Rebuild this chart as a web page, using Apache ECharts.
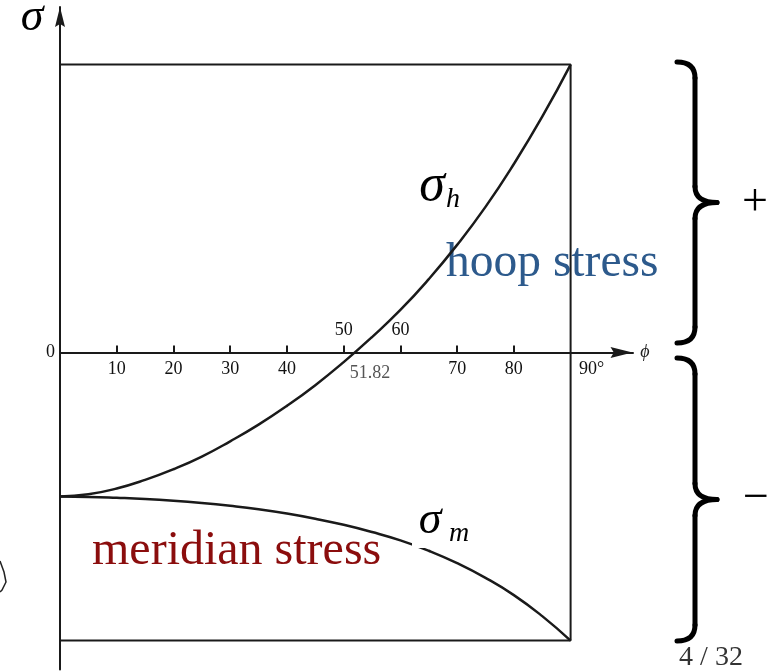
<!DOCTYPE html>
<html>
<head>
<meta charset="utf-8">
<script src="https://cdn.jsdelivr.net/npm/echarts@6/dist/echarts.min.js"></script>
<style>
  html, body { margin: 0; padding: 0; background: #fff; }
  #chart { width: 777px; height: 671px; }
</style>
</head>
<body>
<div id="chart"></div>
<script>
// Meridian angle phi (degrees) and the two membrane stresses, normalised to qR
const phi     = [0, 5, 10, 15, 20, 25, 30, 35, 40, 45, 50, 55, 60, 65, 70, 75, 80, 85, 90];
const sigmaH  = [-0.50, -0.492, -0.472, -0.442, -0.405, -0.361, -0.308, -0.25, -0.185, -0.113, -0.033, 0.054, 0.148, 0.255, 0.374, 0.506, 0.655, 0.819, 1.00];
const sigmaM  = [-0.50, -0.501, -0.504, -0.508, -0.514, -0.522, -0.532, -0.544, -0.559, -0.577, -0.598, -0.623, -0.652, -0.688, -0.731, -0.782, -0.842, -0.915, -1.00];

// Frame limits
const phiEnd = 90;
const sigmaTop = 1;
const sigmaBottom = -1;

// Axis tick values and labels
const tickValues = [10, 20, 30, 40, 50, 60, 70, 80];
const belowLabels = [10, 20, 30, 40, 70, 80];
const aboveLabels = [50, 60];
const zeroCrossing = 51.82;
const endLabel = '90°';

const serif = '"Liberation Serif", "DejaVu Serif", serif';
const ink = '#1a1a1a';

const chart = echarts.init(document.getElementById('chart'), null, { renderer: 'canvas' });

// Tick labels sit on the phi axis (sigma = 0)
const labelData = [];
belowLabels.forEach(v => labelData.push({
  value: [v, 0], name: String(v),
  label: { position: 'bottom', distance: 8 }
}));
aboveLabels.forEach(v => labelData.push({
  value: [v, 0], name: String(v),
  label: { position: 'top', distance: 13 }
}));
labelData.push({
  value: [zeroCrossing, 0], name: String(zeroCrossing),
  label: { position: 'bottom', distance: 12, offset: [16, 0], color: '#555' }
});
labelData.push({
  value: [phiEnd, 0], name: endLabel,
  label: { position: 'bottom', distance: 8, offset: [21, 0] }
});
labelData.push({
  value: [0, 0], name: '0',
  label: { position: 'left', distance: 5 }
});

// Curly brace built from lines and quadratic curves (opening to the left, tip to the right)
function brace(top, bottom, xEnd, xBar, xTip, r) {
  const mid = (top + bottom) / 2;
  const st = { fill: 'none', stroke: '#000', lineWidth: 5, lineCap: 'round' };
  return {
    type: 'group',
    children: [
      { type: 'bezierCurve', shape: { x1: xEnd, y1: top, cpx1: xBar, cpy1: top, x2: xBar, y2: top + r }, style: st },
      { type: 'line', shape: { x1: xBar, y1: top + r, x2: xBar, y2: mid - r }, style: st },
      { type: 'bezierCurve', shape: { x1: xBar, y1: mid - r, cpx1: xBar, cpy1: mid, x2: xTip, y2: mid }, style: st },
      { type: 'bezierCurve', shape: { x1: xTip, y1: mid, cpx1: xBar, cpy1: mid, x2: xBar, y2: mid + r }, style: st },
      { type: 'line', shape: { x1: xBar, y1: mid + r, x2: xBar, y2: bottom - r }, style: st },
      { type: 'bezierCurve', shape: { x1: xBar, y1: bottom - r, cpx1: xBar, cpy1: bottom, x2: xEnd, y2: bottom }, style: st }
    ]
  };
}

const arrowPath = 'path://M5,0 L10,20 L5,17 L0,20 Z';

const option = {
  animation: false,
  backgroundColor: '#ffffff',
  grid: { left: 60, top: 7, width: 573, height: 662.4, containLabel: false, outerBoundsMode: 'none' },
  xAxis: {
    type: 'value', min: 0, max: 101,
    axisLine: {
      show: true, onZero: true,
      symbol: ['none', arrowPath], symbolSize: [11, 23], symbolOffset: [0, -11.5],
      lineStyle: { color: ink, width: 2 }
    },
    axisTick: {
      show: true, inside: true, length: 7, customValues: tickValues,
      lineStyle: { color: ink, width: 2 }
    },
    axisLabel: { show: false },
    splitLine: { show: false }
  },
  yAxis: {
    type: 'value', min: -1.1, max: 1.2,
    axisLine: {
      show: true, onZero: false,
      symbol: ['none', arrowPath], symbolSize: [11, 20], symbolOffset: [0, -10],
      lineStyle: { color: ink, width: 2 }
    },
    axisTick: { show: false },
    axisLabel: { show: false },
    splitLine: { show: false }
  },
  series: [
    {
      name: 'frame', type: 'line', symbol: 'none', silent: true,
      data: [[0, sigmaTop], [phiEnd, sigmaTop], [phiEnd, sigmaBottom], [0, sigmaBottom]],
      lineStyle: { color: ink, width: 2 }
    },
    {
      name: 'sigma_h', type: 'line', symbol: 'none', smooth: 0.5,
      data: phi.map((p, i) => [p, sigmaH[i]]),
      lineStyle: { color: ink, width: 2.5 }
    },
    {
      name: 'sigma_m', type: 'line', symbol: 'none', smooth: 0.5,
      data: phi.map((p, i) => [p, sigmaM[i]]),
      lineStyle: { color: ink, width: 2.5 }
    },
    {
      name: 'axisText', type: 'scatter', symbolSize: 0, silent: true,
      itemStyle: { opacity: 1 },
      data: labelData,
      label: {
        show: true, formatter: p => p.name, opacity: 1,
        fontFamily: serif, fontSize: 18, color: '#111'
      },
      z: 5
    }
  ],
  graphic: [
    // axis names
    { type: 'text', x: 32, y: 18, style: { text: 'σ', font: `italic 46px ${serif}`, fill: '#000', align: 'center', verticalAlign: 'middle' } },
    { type: 'text', x: 645, y: 352, style: { text: 'ϕ', font: `italic 18px ${serif}`, fill: '#222', align: 'center', verticalAlign: 'middle' } },
    // curve names
    { type: 'text', x: 432, y: 186, style: { text: 'σ', font: `italic 52px ${serif}`, fill: '#000', align: 'center', verticalAlign: 'middle' } },
    { type: 'text', x: 453, y: 186, style: { text: 'h', font: `italic 28px ${serif}`, fill: '#000', align: 'center', verticalAlign: 'top' } },
    { type: 'rect', shape: { x: 412, y: 503, width: 64, height: 45 }, style: { fill: '#fff' }, z: 10 },
    { type: 'text', x: 430, y: 521, z: 11, style: { text: 'σ', font: `italic 46px ${serif}`, fill: '#000', align: 'center', verticalAlign: 'middle' } },
    { type: 'text', x: 459, y: 520, z: 11, style: { text: 'm', font: `italic 28px ${serif}`, fill: '#000', align: 'center', verticalAlign: 'top' } },
    { type: 'text', x: 446, y: 240, style: { text: 'hoop stress', font: `47.5px ${serif}`, fill: '#2d5a8c', align: 'left', verticalAlign: 'top' } },
    { type: 'text', x: 92, y: 527, style: { text: 'meridian stress', font: `48px ${serif}`, fill: '#8b0d0d', align: 'left', verticalAlign: 'top' } },
    // sign braces
    brace(62, 343, 677, 695, 717, 16),
    brace(358, 641, 677, 695, 717, 16),
    { type: 'text', x: 755, y: 203, style: { text: '+', font: `46px ${serif}`, fill: '#000', align: 'center', verticalAlign: 'middle' } },
    { type: 'text', x: 756, y: 499, style: { text: '−', font: `46px ${serif}`, fill: '#000', align: 'center', verticalAlign: 'middle' } },
    { type: 'text', x: 711, y: 658, style: { text: '4 / 32', font: `28px ${serif}`, fill: '#333', align: 'center', verticalAlign: 'middle' } },
    // sketch fragment at the left margin
    { type: 'polyline', shape: { points: [[0, 561], [4, 572], [6, 582], [2, 590], [0, 592]] },
      style: { fill: 'none', stroke: '#222', lineWidth: 1.5 } }
  ]
};

chart.setOption(option);
</script>
</body>
</html>
